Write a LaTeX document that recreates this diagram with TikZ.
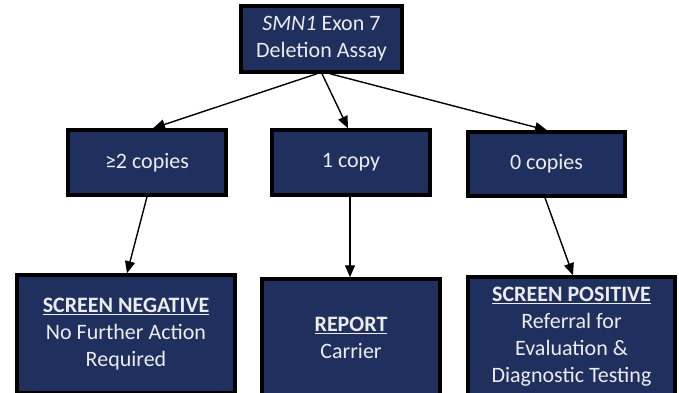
\documentclass[tikz,border=0pt]{standalone}
\usepackage{fontspec}
\setmainfont{Carlito}
\usetikzlibrary{arrows.meta,calc}
\definecolor{navy}{RGB}{31,48,94}
\definecolor{boxtext}{RGB}{236,236,236}
\tikzset{
  box/.style={draw=black, line width=3.5pt, fill=navy, text=boxtext, inner sep=0pt,
    align=center, font=\fontsize{22}{27}\selectfont},
  conn/.style={line width=1.4pt, -{Triangle[length=12pt,width=10pt]}}
}
\newcommand{\hdr}[1]{\underline{\textbf{#1}}}
\begin{document}
\begin{tikzpicture}[x=1pt,y=-1pt]
\useasboundingbox (0,0) rectangle (679,392);
\clip (0,0) rectangle (679,392);
\node[box, minimum width=161pt, minimum height=66pt] (top) at (321.5,39) {\textit{SMN1} Exon 7\\Deletion Assay};
\node[box, minimum width=158pt, minimum height=65pt] (m1) at (147,162.5) {≥2 copies};
\node[box, minimum width=158pt, minimum height=65pt] (m2) at (351,162.5) {1 copy};
\node[box, minimum width=157pt, minimum height=64pt] (m3) at (546.5,164) {0 copies};
\node[box, minimum width=218pt, minimum height=118pt] (b1) at (126,334) {\hdr{SCREEN NEGATIVE}\\No Further Action\\Required};
\node[box, minimum width=178pt, minimum height=118pt] (b2) at (351,338) {\hdr{REPORT}\\Carrier};
\node[box, minimum width=207pt, minimum height=120pt] (b3) at (571.5,337) {\hdr{SCREEN POSITIVE}\\Referral for\\Evaluation \&\\Diagnostic Testing};
\draw[conn] ($(top.south)+(-4.5,0)$) -- ($(m1.north)+(6,0)$);
\draw[conn] ($(top.south)+(0.5,0)$) -- ($(m2.north)+(-3,0)$);
\draw[conn] ($(top.south)+(8.5,0)$) -- ($(m3.north)+(0.5,0)$);
\draw[conn] (m1.south) -- ($(b1.north)+(1,0)$);
\draw[conn] ($(m2.south)+(-1,0)$) -- ($(b2.north)+(-1,0)$);
\draw[conn] ($(m3.south)+(-1.5,0)$) -- ($(b3.north)+(1.5,0)$);
\end{tikzpicture}
\end{document}
